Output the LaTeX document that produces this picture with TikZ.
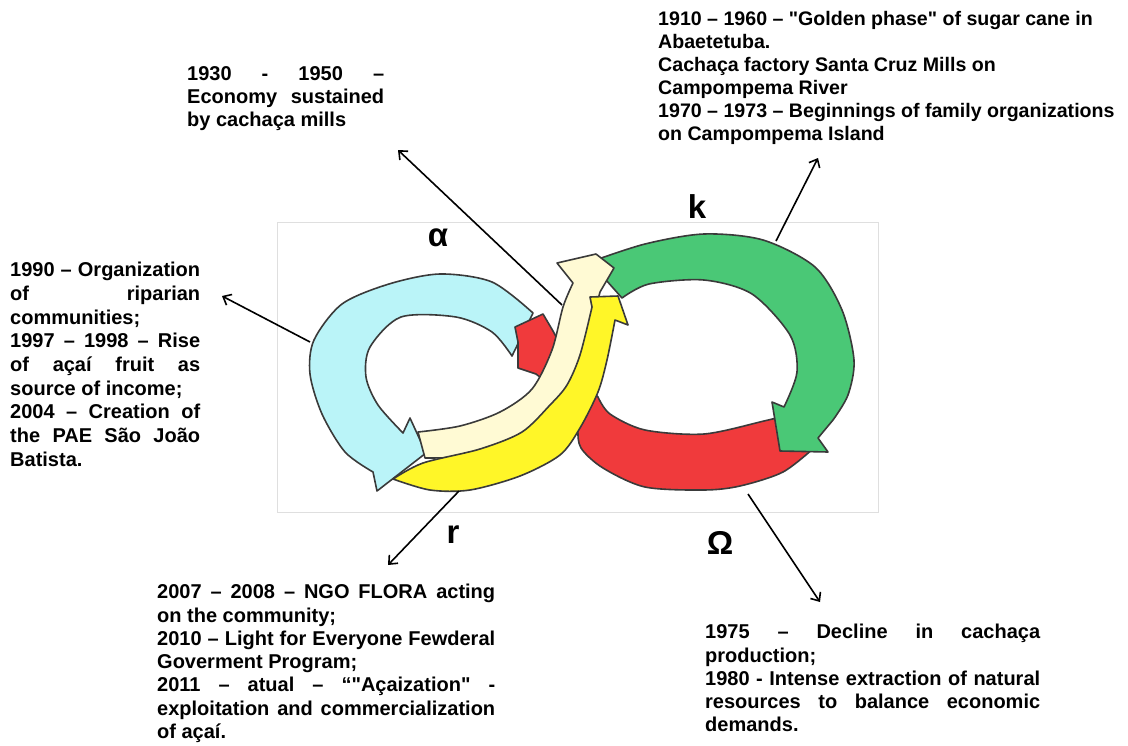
\documentclass[tikz,border=0pt]{standalone}
\usepackage{fontspec}
\setmainfont{Liberation Sans}[Ligatures=TeXOff]
\usetikzlibrary{arrows.meta}
\definecolor{inkline}{RGB}{58,58,58}
\definecolor{alphablue}{RGB}{186,244,248}
\definecolor{kgreen}{RGB}{74,200,118}
\definecolor{omegared}{RGB}{240,58,60}
\definecolor{rcream}{RGB}{255,250,212}
\definecolor{ryellow}{RGB}{255,246,40}
\tolerance=10000
\hbadness=10000
\hfuzz=8pt
\frenchspacing
\tikzset{
	every node/.append style={inner sep=0pt},
	note/.style={anchor=north west, align=justify,
		font=\fontsize{20}{23.3}\selectfont\bfseries},
	phase/.style={font=\fontsize{33}{33}\selectfont\bfseries},
	band/.style={draw=inkline, line width=1.6pt, line join=round},
	pointer/.style={line width=1.6pt,
		-{Straight Barb[length=7pt,width=12pt]}}
}

\begin{document}
\begin{tikzpicture}[x=1pt,y=-1pt]
	\fill[white] (0,0) rectangle (1128,745);
	\useasboundingbox (0,0) rectangle (1128,745);
	\filldraw[draw=gray!25, fill=white, line width=0.8pt] (277,222) rectangle (878,512);

	\filldraw[band, fill=alphablue]
		plot[smooth] coordinates {(533,313) (492,282) (440,274) (389,284) (342,304) (314,340) (310,374) (322,414) (345,452) (373,472)}
		-- (377,491) -- (426,453) -- (410,418) -- (403,433)
		-- plot[smooth] coordinates {(403,433) (378,405) (366,377) (370,347) (401,317) (456,317) (492,332) (512,356)}
		-- cycle;
	\filldraw[band, fill=omegared]
		plot[smooth] coordinates {(815,447) (783,472) (740,486) (704,490) (645,487) (603,468) (581,448) (578,428) (582,404)}
		-- (560,392) -- (536,374) -- (518,368) -- (518,342) -- (515,327) -- (543,314) -- (553,331) -- (575,372)
		-- plot[smooth] coordinates {(598,397) (610,414) (645,430) (704,434) (764,421) (792,414)}
		-- cycle;
	\filldraw[band, fill=kgreen]
		plot[smooth] coordinates {(590,262) (645,244) (704,234) (763,240) (815,267) (842,310) (854,360) (848,395) (833,420)}
		-- (818,438) -- (828,452) -- (780,451) -- (772,402) -- (784,407)
		-- plot[smooth] coordinates {(784,407) (797,372) (790,335) (752,294) (704,280) (649,284) (622,298)}
		-- cycle;
	\filldraw[band, fill=rcream]
		plot[smooth] coordinates {(418,432) (460,426) (500,412) (532,389) (552,350) (563,307) (573,283)}
		-- (557,263) -- (596,254) -- (614,268) -- (600,292)
		-- plot[smooth] coordinates {(600,292) (590,330) (578,370) (560,405) (525,435) (480,455) (425,458)}
		-- cycle;
	\filldraw[band, fill=ryellow]
		plot[smooth] coordinates {(393,479) (423,463) (480,449) (522,432) (550,405) (567,385) (580,355) (592,307)}
		-- (590,297) -- (618,296) -- (628,325) -- (615,320)
		-- plot[smooth] coordinates {(615,320) (607,360) (598,392) (580,428) (560,455) (520,476) (470,490) (430,490) (393,479)}
		-- cycle;

	\node[phase] (la) at (438,238) {α};
	\node[phase] (lk) at (697,207) {k};
	\node[phase] (lr) at (453,535) {r};
	\node[phase] (lo) at (720,543) {Ω};

	\node[note, align=left, font=\fontsize{19.6}{23}\selectfont\bfseries] (ktext) at (658,11)
		{1910 – 1960 – "Golden phase" of sugar cane in\\
		Abaetetuba.\\
		Cachaça factory Santa Cruz Mills on\\
		Campompema River\\
		1970 – 1973 – Beginnings of family organizations\\
		on Campompema Island};
	\node[note, text width=197] (mills) at (187,66)
		{1930 - 1950 –\linebreak Economy sustained\linebreak by cachaça mills};
	\node[note, text width=190, font=\fontsize{20}{23.7}\selectfont\bfseries] (alpha) at (10,262)
		{1990 – Organization\linebreak of riparian\linebreak communities;\par
		1997 – 1998 – Rise\linebreak of açaí fruit as\linebreak source of income;\par
		2004 – Creation of\linebreak the PAE São João\linebreak Batista.};
	\node[note, text width=338] (rtext) at (157,584)
		{2007 – 2008 – NGO FLORA acting\linebreak on the community;\par
		2010 – Light for Everyone Fewderal\linebreak Goverment Program;\par
		2011 – atual – “"Açaization" -\linebreak exploitation and commercialization\linebreak of açaí.};
	\node[note, text width=335] (omega) at (705,624)
		{1975 – Decline in cachaça\linebreak production;\par
		1980 - Intense extraction of natural\linebreak resources to balance economic\linebreak demands.};

	\coordinate (mfoot) at (562,305);
	\coordinate (mtip) at (398,150);
	\coordinate (kfoot) at (776,241);
	\coordinate (ktip) at (818,158);
	\coordinate (afoot) at (310,342);
	\coordinate (atip) at (222,296);
	\coordinate (rfoot) at (459,491);
	\coordinate (rtip) at (388,565);
	\coordinate (ofoot) at (748,494);
	\coordinate (otip) at (820,602);

	\draw[pointer] (mfoot) -- (mtip);
	\draw[pointer] (kfoot) -- (ktip);
	\draw[pointer] (afoot) -- (atip);
	\draw[pointer] (rfoot) -- (rtip);
	\draw[pointer] (ofoot) -- (otip);
\end{tikzpicture}
\end{document}
